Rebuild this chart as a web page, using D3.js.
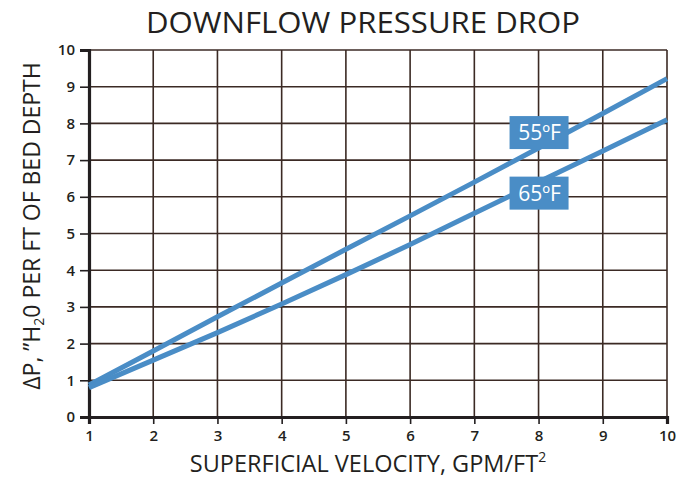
<!DOCTYPE html>
<html><head><meta charset="utf-8">
<script src="https://cdn.jsdelivr.net/npm/d3@7"></script>
<style>body{margin:0;background:#fff;} text{font-family:"Open Sans",sans-serif;}</style>
</head><body><svg id="c" width="691" height="478"></svg>
<script>
const velocity = [1,2,3,4,5,6,7,8,9,10];
const drop55 = [0.87,1.8,2.73,3.65,4.57,5.48,6.4,7.33,8.27,9.22];
const drop65 = [0.8,1.55,2.3,3.08,3.88,4.7,5.55,6.4,7.25,8.1];
const xTicks = [1,2,3,4,5,6,7,8,9,10];
const yTicks = [0,1,2,3,4,5,6,7,8,9,10];
const seriesLabels = [{name:"55ºF", x:8, y:7.75},{name:"65ºF", x:8, y:6.1}];
const title = "DOWNFLOW PRESSURE DROP";

const svg = d3.select("#c");
const ink = "#231f20", blue = "#4a8dc6";
const x = d3.scaleLinear().domain([1,10]).range([89,667]);
const y = d3.scaleLinear().domain([0,10]).range([417,50]);

// grid
svg.append("g").selectAll("line").data(xTicks.slice(1)).join("line")
  .attr("x1",d=>x(d)).attr("x2",d=>x(d)).attr("y1",y(0)).attr("y2",y(10))
  .attr("stroke","#3b2a24").attr("stroke-width",1.6);
svg.append("g").selectAll("line").data(yTicks.slice(1)).join("line")
  .attr("x1",x(1)).attr("x2",x(10)).attr("y1",d=>y(d)).attr("y2",d=>y(d))
  .attr("stroke","#3b2a24").attr("stroke-width",1.6);

// axes
const xa = svg.append("g").attr("transform",`translate(0,${y(0)})`)
  .call(d3.axisBottom(x).tickValues(xTicks).tickSize(7).tickPadding(6).tickFormat(d3.format("d")));
const ya = svg.append("g").attr("transform",`translate(${x(1)},0)`)
  .call(d3.axisLeft(y).tickValues(yTicks).tickSize(9).tickPadding(5).tickFormat(d3.format("d")));
[xa,ya].forEach(g=>{
  g.select(".domain").attr("stroke",ink).attr("stroke-width",3.2);
  g.selectAll(".tick line").attr("stroke",ink).attr("stroke-width",1.6);
  g.selectAll(".tick text").attr("fill",ink).attr("font-size",15).attr("font-weight",600)
    .style("font-family","'Open Sans',sans-serif");
});

// lines
const line = d3.line().x((d,i)=>x(velocity[i])).y(d=>y(d));
[drop55,drop65].forEach(s=>{
  svg.append("path").attr("d",line(s)).attr("fill","none").attr("stroke",blue)
    .attr("stroke-width",5);
});

// labels
seriesLabels.forEach(l=>{
  const cx = x(l.x), cy = y(l.y);
  svg.append("rect").attr("x",cx-29).attr("y",cy-16.5).attr("width",59).attr("height",33).attr("fill",blue);
  svg.append("text").attr("x",cx+1).attr("y",cy+7.5).attr("text-anchor","middle")
    .attr("fill","#fff").attr("font-size",21).text(l.name);
});

// title
svg.append("text").attr("x",363).attr("y",33).attr("text-anchor","middle").attr("fill",ink)
  .attr("font-size",30).attr("textLength",434).attr("lengthAdjust","spacingAndGlyphs").text(title);
// x title
const xt = svg.append("text").attr("x",368).attr("y",472).attr("text-anchor","middle").attr("fill",ink)
  .attr("font-size",23.5);
xt.append("tspan").text("SUPERFICIAL VELOCITY, GPM/FT");
xt.append("tspan").attr("font-size",14).attr("dy",-10).text("2");
// y title
const yt = svg.append("text").attr("transform","translate(40,226) rotate(-90)").attr("text-anchor","middle")
  .attr("fill",ink).attr("font-size",23);
yt.append("tspan").text("ΔP, \u201DH");
yt.append("tspan").attr("font-size",14).attr("dy",4).text("2");
yt.append("tspan").attr("dy",-4).text("0 PER FT OF BED DEPTH");
</script></body></html>
